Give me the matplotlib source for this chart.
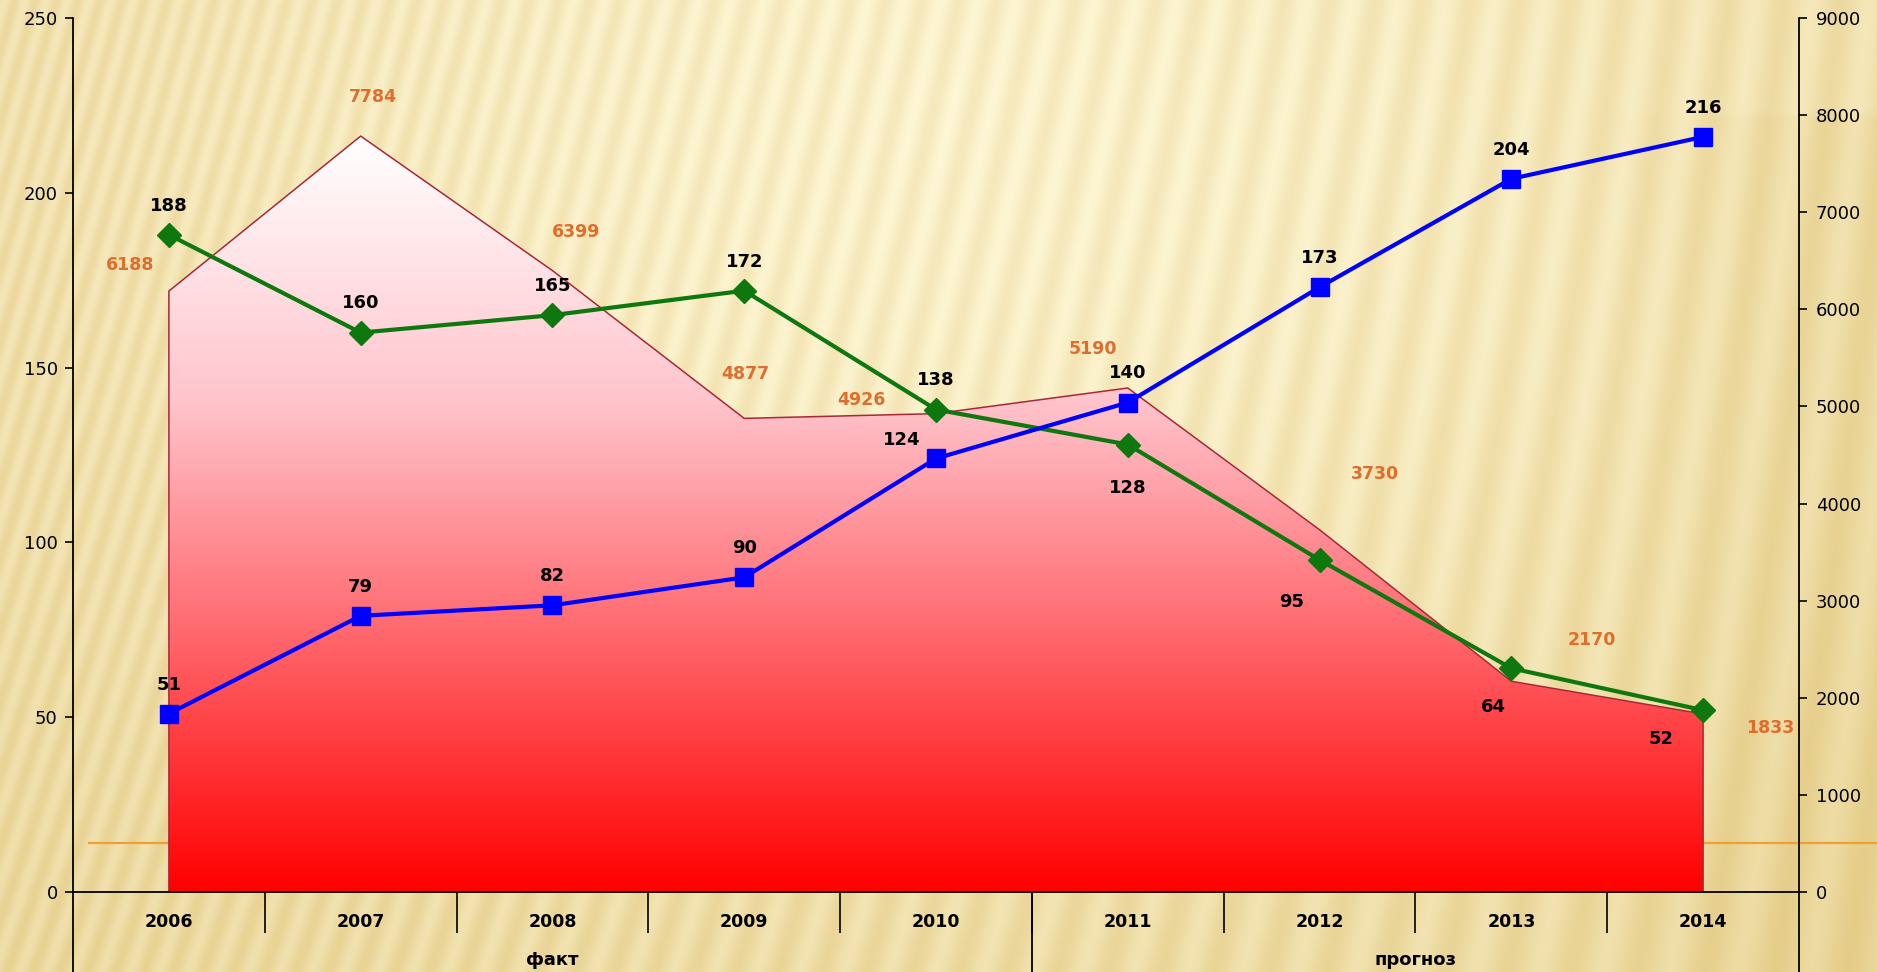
import numpy as np
import matplotlib
matplotlib.use("Agg")
import matplotlib.pyplot as plt
import matplotlib.transforms as mtransforms
from matplotlib.colors import LinearSegmentedColormap

years = ["2006", "2007", "2008", "2009", "2010", "2011", "2012", "2013", "2014"]
groups = ["факт", "прогноз"]
group_sizes = [5, 4]

blue_vals = [51, 79, 82, 90, 124, 140, 173, 204, 216]
green_vals = [188, 160, 165, 172, 138, 128, 95, 64, 52]
area_vals = [6188, 7784, 6399, 4877, 4926, 5190, 3730, 2170, 1833]
threshold = 500

# label offsets (points) from each point
blue_off = [(0, 21), (0, 21), (0, 21), (0, 21), (-25, 13), (0, 21), (0, 21), (0, 21), (0, 21)]
green_off = [(0, 21), (0, 21), (0, 21), (0, 21), (0, 21), (0, -31), (-20, -30), (-13, -28), (-30, -21)]
area_off = [(-28, 19), (9, 28), (17, 28), (1, 32), (-54, 10), (-25, 28), (40, 40), (58, 30), (48, -10)]

W, H = 1877, 972

# ---- background texture
yy, xx = np.mgrid[0:H, 0:W].astype(float)
fx = xx / W
k = 0.36 - 0.28 * fx
period = 26 + 18 * fx
phase = (xx - k * (H - yy)) / period
stripe = 0.5 + 0.5 * np.sin(2 * np.pi * phase)
glow = np.exp(-(((xx - 950) / 950) ** 2 + ((yy - 120) / 700) ** 2))
shade = 1 / (1 + np.exp(-(yy - 115) / 2)) * 1 / (1 + np.exp(-(xx - 1700) / 40))
t = 0.55 * (1 - glow) + 0.28 * stripe + 0.12 * shade
t = np.clip(t, 0, 1)
light = np.array([254, 246, 212]) / 255
dark = np.array([226, 200, 128]) / 255
bg_img = light + (dark - light) * t[..., None]

fig = plt.figure(figsize=(W / 100, H / 100), dpi=100)
bg = fig.add_axes([0, 0, 1, 1])
bg.imshow(bg_img, aspect="auto", interpolation="bilinear")
bg.axis("off")

ax = fig.add_axes([73 / W, 80 / H, (1799 - 73) / W, 874 / H])
ax2 = ax.twinx()
ax.set_zorder(ax2.get_zorder() + 1)
ax.patch.set_visible(False)
ax2.patch.set_visible(False)

x = np.arange(len(years))

# ---- area with gradient (right axis)
poly = ax2.fill_between(x, 0, area_vals, facecolor="none", edgecolor="#a82838",
                        lw=1.1, zorder=3)
cmap = LinearSegmentedColormap.from_list(
    "wr", [(0, "#ff0000"), (0.35, "#ff6a70"), (0.65, "#ffc4cc"), (1, "#ffffff")])
grad = np.linspace(0, 1, 256).reshape(-1, 1)
im = ax2.imshow(grad, extent=[x[0], x[-1], 0, max(area_vals)], origin="lower",
                aspect="auto", cmap=cmap, zorder=2)
im.set_clip_path(poly.get_paths()[0], transform=ax2.transData)
ax2.hlines(threshold, -0.42, 8.95, color="#f0a030", lw=1.6, zorder=1, clip_on=False)

for i, v in enumerate(area_vals):
    ax2.annotate(str(v), (x[i], v), xytext=area_off[i], textcoords="offset points",
                 ha="center", va="center", fontsize=12.5, fontweight="bold",
                 color="#de6e2e", zorder=4)

# ---- lines (left axis)
ax.plot(x, green_vals, color="#0e780e", lw=3, marker="D", ms=12, zorder=3)
ax.plot(x, blue_vals, color="#0000ff", lw=3, marker="s", ms=13, zorder=4)
for i, v in enumerate(blue_vals):
    ax.annotate(str(v), (x[i], v), xytext=blue_off[i], textcoords="offset points",
                ha="center", va="center", fontsize=13, fontweight="bold")
for i, v in enumerate(green_vals):
    ax.annotate(str(v), (x[i], v), xytext=green_off[i], textcoords="offset points",
                ha="center", va="center", fontsize=13, fontweight="bold")

# ---- axes
ax.set_xlim(-0.5, len(years) - 0.5)
ax.set_ylim(0, 250)
ax.set_yticks(np.arange(0, 251, 50))
ax2.set_ylim(0, 9000)
ax2.set_yticks(np.arange(0, 9001, 1000))

for s in ["top", "right"]:
    ax.spines[s].set_visible(False)
for s in ["top", "left", "bottom"]:
    ax2.spines[s].set_visible(False)
for sp in [ax.spines["left"], ax.spines["bottom"], ax2.spines["right"]]:
    sp.set_linewidth(1.3)
    sp.set_color("black")

ax.tick_params(axis="y", direction="out", length=6, width=1.2, labelsize=13, pad=5)
ax2.tick_params(axis="y", direction="out", length=6, width=1.2, labelsize=13, pad=6)

ax.set_xticks(x)
ax.set_xticklabels(years, fontsize=12.5, fontweight="bold")
ax.set_xticks(np.arange(0.5, len(years) - 1, 1), minor=True)
ax.tick_params(axis="x", which="major", length=0, pad=15)
ax.tick_params(axis="x", which="minor", length=29.5, width=1.2, direction="out")

trans = mtransforms.blended_transform_factory(ax.transData, ax.transAxes)
bottom = -80 / 874
edges = np.concatenate([[0], np.cumsum(group_sizes)]) - 0.5
for e in edges:
    ax.plot([e, e], [0, bottom], color="black", lw=1.3, transform=trans, clip_on=False)
for g, a, b in zip(groups, edges[:-1], edges[1:]):
    ax.text((a + b) / 2, -68 / 874, g, transform=trans, ha="center", va="center",
            fontsize=13, fontweight="bold")

fig.savefig("out.png", dpi=100)
